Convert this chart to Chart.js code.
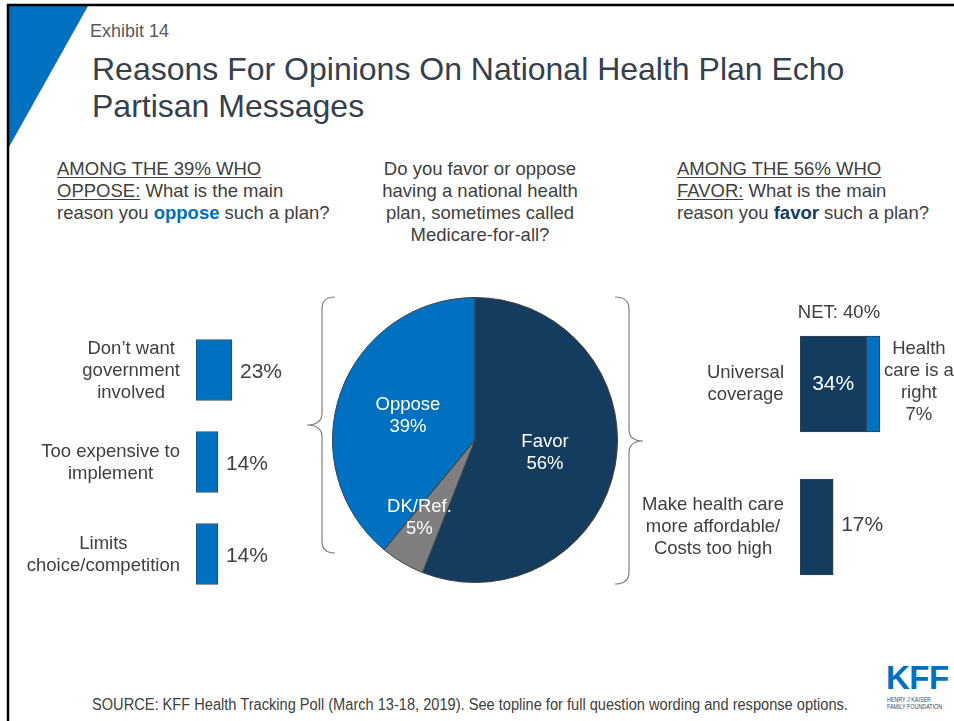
<!DOCTYPE html>
<html>
<head>
<meta charset="utf-8">
<script src="https://cdn.jsdelivr.net/npm/chart.js@4/dist/chart.umd.min.js"></script>
<style>
  html, body { margin: 0; padding: 0; background: #fff; }
  body { width: 954px; height: 721px; position: relative; overflow: hidden;
         font-family: "Liberation Sans", Arial, sans-serif; color: #404040; }
  .txt { position: absolute; white-space: nowrap; }
  #exhibit { left: 90px; top: 21px; font-size: 18px; line-height: 20px; color: #595959; }
  #title { left: 92px; top: 51px; font-size: 32px; line-height: 37px; color: #36404c; }
  .head { font-size: 18.5px; line-height: 22px; top: 158px; }
  .head u { text-decoration-thickness: 1px; text-underline-offset: 2px; }
  .opp { color: #0070c0; }
  .fav { color: #133c5f; }
  /* narrow face for the footnote */
  #source { left: 92px; top: 695px; font-size: 16px; line-height: 20px;
            transform: scaleX(0.913); transform-origin: 0 0; }
  #kff { left: 886px; top: 662px; color: #0070c0; font-weight: bold; font-size: 33px;
         line-height: 32px; letter-spacing: -0.5px; }
  #kffsub { left: 887px; top: 696px; color: #2b4c6f; font-size: 6.4px; line-height: 7px;
            transform: scaleX(0.84); transform-origin: 0 0; }
  canvas { position: absolute; }
  svg { position: absolute; left: 0; top: 0; }
</style>
</head>
<body>
<svg width="954" height="721">
  <polygon points="9,6 88,6 9,147" fill="#0070c0"/>
  <line x1="7" y1="5" x2="954" y2="5" stroke="#000" stroke-width="2.5"/>
  <line x1="8" y1="4" x2="8" y2="721" stroke="#000" stroke-width="2.5"/>
  <path d="M335,297 Q322,297 322,309 L322,413 Q322,425 307,425 Q322,425 322,437 L322,541 Q322,553 335,553"
        fill="none" stroke="#808080" stroke-width="1.2"/>
  <path d="M615,297 Q629,297 629,309 L629,429 Q629,441 643,441 Q629,441 629,453 L629,572 Q629,584 615,584"
        fill="none" stroke="#808080" stroke-width="1.2"/>
</svg>

<div class="txt" id="exhibit">Exhibit 14</div>
<div class="txt" id="title">Reasons For Opinions On National Health Plan Echo<br>Partisan Messages</div>

<div class="txt head" style="left:57px"><u>AMONG THE 39% WHO<br>OPPOSE:</u> What is the main<br>reason you <b class="opp">oppose</b> such a plan?</div>
<div class="txt head" style="left:350px; width:260px; text-align:center">Do you favor or oppose<br>having a national health<br>plan, sometimes called<br>Medicare-for-all?</div>
<div class="txt head" style="left:677px"><u>AMONG THE 56% WHO<br>FAVOR:</u> What is the main<br>reason you <b class="fav">favor</b> such a plan?</div>

<canvas id="opposeChart" width="300" height="310" style="left:0; top:300px"></canvas>
<canvas id="pieChart" width="300" height="300" style="left:325px; top:290px"></canvas>
<canvas id="favorChart" width="334" height="320" style="left:620px; top:290px"></canvas>

<div class="txt" id="source">SOURCE: KFF Health Tracking Poll (March 13-18, 2019). See topline for full question wording and response options.</div>
<div class="txt" id="kff">KFF</div>
<div class="txt" id="kffsub">HENRY J KAISER<br>FAMILY FOUNDATION</div>

<script>
// overall opinion
var pieLabels = ["Favor", "DK/Ref.", "Oppose"];
var pieValues = [56, 5, 39];

// main reason among those who oppose
var opposeReasons = [["Don\u2019t want", "government", "involved"], ["Too expensive to", "implement"], ["Limits", "choice/competition"]];
var opposeValues = [23, 14, 14];

// main reason among those who favor
var favorReasons = [["Universal", "coverage"], ["Make health care", "more affordable/", "Costs too high"]];
var favorMain = [34, 17];
var rightLabel = ["Health", "care is a", "right"];
var rightValues = [7, null];
var netValues = [40, null];

var NAVY = "#133c5f";
var BLUE = "#0070c0";
var GRAY = "#7f7f7f";
var TEXT = "#404040";
var LABEL_FONT = '18.5px "Liberation Sans", Arial, sans-serif';
var VALUE_FONT = '21px "Liberation Sans", Arial, sans-serif';
var LINE_H = 22;

Chart.defaults.font.family = '"Liberation Sans", Arial, sans-serif';
Chart.defaults.animation = false;
Chart.defaults.responsive = false;
Chart.defaults.plugins.legend.display = false;
Chart.defaults.plugins.tooltip.enabled = false;

function drawLines(ctx, lines, cx, cy) {
  var top = cy - (lines.length - 1) * LINE_H / 2;
  lines.forEach(function (t, i) { ctx.fillText(t, cx, top + i * LINE_H); });
}

function blockWidth(ctx, lines) {
  return Math.max.apply(null, lines.map(function (t) { return ctx.measureText(t).width; }));
}

// category text to the left of each bar, lines centred in a right-aligned block
function drawCategory(ctx, lines, rightEdge, cy) {
  ctx.font = LABEL_FONT;
  ctx.fillStyle = TEXT;
  ctx.textAlign = "center";
  var w = blockWidth(ctx, lines);
  drawLines(ctx, lines, rightEdge - w / 2, cy);
}

var opposeLabels = {
  id: "opposeLabels",
  afterDatasetsDraw: function (chart) {
    var ctx = chart.ctx;
    ctx.save();
    ctx.textBaseline = "middle";
    chart.getDatasetMeta(0).data.forEach(function (bar, i) {
      drawCategory(ctx, chart.data.labels[i], bar.base - 16, bar.y + 1);
      ctx.font = VALUE_FONT;
      ctx.fillStyle = TEXT;
      ctx.textAlign = "left";
      ctx.fillText(opposeValues[i] + "%", bar.x + 8, bar.y + 2);
    });
    ctx.restore();
  }
};

var favorLabels = {
  id: "favorLabels",
  afterDatasetsDraw: function (chart) {
    var ctx = chart.ctx;
    var mainBars = chart.getDatasetMeta(0).data;
    var segBars = chart.getDatasetMeta(1).data;
    ctx.save();
    ctx.textBaseline = "middle";
    mainBars.forEach(function (bar, i) {
      drawCategory(ctx, chart.data.labels[i], bar.base - 16, bar.y);
      ctx.font = VALUE_FONT;
      if (rightValues[i] != null) {
        var seg = segBars[i];
        ctx.fillStyle = "#fff";
        ctx.textAlign = "center";
        ctx.fillText(favorMain[i] + "%", (bar.base + bar.x) / 2, bar.y);
        ctx.font = LABEL_FONT;
        ctx.fillStyle = TEXT;
        var lines = rightLabel.concat([rightValues[i] + "%"]);
        var w = blockWidth(ctx, lines);
        drawLines(ctx, lines, seg.x + 4 + w / 2, bar.y - 2);
      } else {
        ctx.fillStyle = TEXT;
        ctx.textAlign = "left";
        ctx.fillText(favorMain[i] + "%", bar.x + 8, bar.y - 2);
      }
      if (netValues[i] != null) {
        var end = rightValues[i] != null ? segBars[i].x : bar.x;
        ctx.font = LABEL_FONT;
        ctx.fillStyle = TEXT;
        ctx.textAlign = "center";
        ctx.fillText("NET: " + netValues[i] + "%", (bar.base + end) / 2 - 1, bar.y - bar.height / 2 - 23);
      }
    });
    ctx.restore();
  }
};

var pieText = {
  id: "pieText",
  afterDatasetsDraw: function (chart) {
    var ctx = chart.ctx;
    // label distance (share of radius) and angle nudge per slice
    var spots = [{ r: 0.5, da: 0 }, { r: 0.67, da: 0.087 }, { r: 0.5, da: 0 }];
    ctx.save();
    ctx.font = LABEL_FONT;
    ctx.fillStyle = "#fff";
    ctx.textAlign = "center";
    ctx.textBaseline = "middle";
    chart.getDatasetMeta(0).data.forEach(function (arc, i) {
      var a = (arc.startAngle + arc.endAngle) / 2 + spots[i].da;
      var r = arc.outerRadius * spots[i].r;
      drawLines(ctx, [pieLabels[i], pieValues[i] + "%"], arc.x + Math.cos(a) * r, arc.y + Math.sin(a) * r);
    });
    ctx.restore();
  }
};

new Chart("pieChart", {
  type: "pie",
  data: {
    labels: pieLabels,
    datasets: [{
      data: pieValues,
      backgroundColor: [NAVY, GRAY, BLUE],
      borderColor: "#404040",
      borderWidth: 1
    }]
  },
  options: {
    layout: { padding: 7 }
  },
  plugins: [pieText]
});

new Chart("opposeChart", {
  type: "bar",
  data: {
    labels: opposeReasons,
    datasets: [{
      data: opposeValues,
      backgroundColor: BLUE,
      borderColor: "#2e4458",
      borderWidth: 1,
      borderSkipped: false,
      barThickness: 61
    }]
  },
  options: {
    indexAxis: "y",
    layout: { padding: { left: 196, right: 41.4, top: 24, bottom: 10 } },
    scales: {
      x: { display: false, min: 0, max: 40 },
      y: { display: false }
    }
  },
  plugins: [opposeLabels]
});

new Chart("favorChart", {
  type: "bar",
  data: {
    labels: favorReasons,
    datasets: [{
      data: favorMain,
      backgroundColor: NAVY,
      borderColor: "#2e4458",
      borderWidth: 1,
      borderSkipped: false,
      barThickness: 96
    }, {
      data: rightValues,
      backgroundColor: BLUE,
      borderColor: "#2e4458",
      borderWidth: 1,
      borderSkipped: false,
      barThickness: 96
    }]
  },
  options: {
    indexAxis: "y",
    layout: { padding: { left: 180, right: 56.5, top: 22.5, bottom: 11.5 } },
    scales: {
      x: { display: false, stacked: true, min: 0, max: 50 },
      y: { display: false, stacked: true }
    }
  },
  plugins: [favorLabels]
});
</script>
</body>
</html>
